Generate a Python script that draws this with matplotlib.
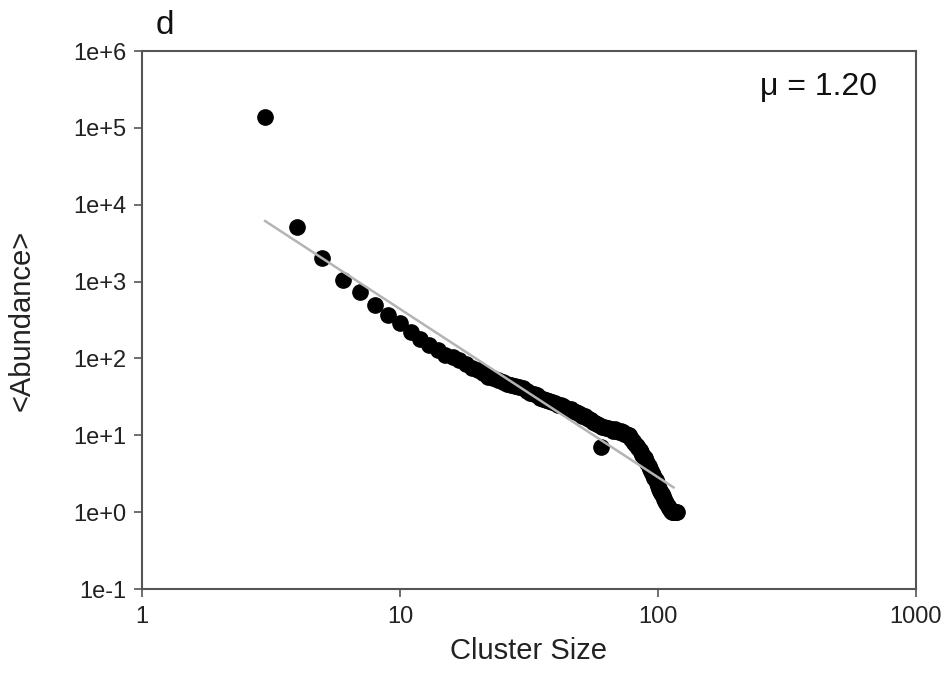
import numpy as np
import matplotlib
matplotlib.use("Agg")
import matplotlib.pyplot as plt
from matplotlib.ticker import FixedLocator, FixedFormatter, NullLocator

plt.rcParams["font.family"] = ["Liberation Sans", "DejaVu Sans"]

# -------------------------------
# Mean abundance per cluster size
# -------------------------------
cluster_size = np.arange(3, 120)
abundance = [
    1.4e5, 5100, 2000, 1050, 740, 500, 370, 290, 220, 180,      # 3-12
    150, 130, 112, 104, 95, 85, 76, 70, 64, 58,                 # 13-22
    55, 52, 49, 47, 45, 44, 42, 41, 38, 36,                     # 23-32
    34, 33, 31, 30, 29, 28, 27, 26, 25, 24.5,                   # 33-42
    24, 23, 22, 22, 21, 20, 19.5, 19, 18, 18,                   # 43-52
    17, 16.5, 16, 15, 14.5, 14, 13.5, 7, 13, 13,                # 53-62
    12.5, 12.5, 12, 12, 11.5, 12, 11.5, 11.5, 11, 11.5,         # 63-72
    11, 10.5, 10.5, 10, 10, 9.5, 9, 8.5, 8, 7.5,                # 73-82
    7.2, 6.8, 6.4, 6, 5.6, 5.3, 5, 4.7, 4.3, 4,                 # 83-92
    3.7, 3.4, 3.2, 3, 2.8, 2.6, 2.4, 2.2, 2, 1.9,               # 93-102
    1.8, 1.7, 1.6, 1.5, 1.4, 1.3, 1.2, 1.15, 1.1, 1.05,         # 103-112
    1.0, 1.0, 1.0, 1.0, 1.0, 1.0, 1.0,                          # 113-119
]

# power-law fit line (end points)
fit_x = [3, 115]
fit_y = [6150, 2.1]
mu = 1.20

x_ticks = [1, 10, 100, 1000]
x_labels = ["1", "10", "100", "1000"]
y_ticks = [1e-1, 1e0, 1e1, 1e2, 1e3, 1e4, 1e5, 1e6]
y_labels = ["1e-1", "1e+0", "1e+1", "1e+2", "1e+3", "1e+4", "1e+5", "1e+6"]

# -------------------------------
# Plot
# -------------------------------
fig = plt.figure(figsize=(9.47, 6.95), dpi=100)
ax = fig.add_axes([0.150, 0.1525, 0.817, 0.774])

ax.plot(cluster_size, abundance, "o", color="black", markersize=11, zorder=2)
ax.plot(fit_x, fit_y, "-", color="#b4b4b4", linewidth=1.8, zorder=3)

ax.set_xscale("log")
ax.set_yscale("log")
ax.set_xlim(1, 1000)
ax.set_ylim(1e-1, 1e6)

ax.xaxis.set_major_locator(FixedLocator(x_ticks))
ax.xaxis.set_major_formatter(FixedFormatter(x_labels))
ax.yaxis.set_major_locator(FixedLocator(y_ticks))
ax.yaxis.set_major_formatter(FixedFormatter(y_labels))
ax.xaxis.set_minor_locator(NullLocator())
ax.yaxis.set_minor_locator(NullLocator())

ax.tick_params(axis="both", direction="out", length=6, width=1.2,
               color="#555555", labelsize=17, labelcolor="#222222")
ax.tick_params(axis="x", pad=6)
ax.tick_params(axis="y", pad=5)

for sp in ax.spines.values():
    sp.set_color("#555555")
    sp.set_linewidth(1.5)

ax.set_xlabel("Cluster Size", fontsize=21, color="#222222", labelpad=7)
ax.set_ylabel("<Abundance>", fontsize=21, color="#222222", labelpad=27)

ax.text(0.95, 0.933, f"\u03bc = {mu:.2f}",
        transform=ax.transAxes, ha="right", va="center", fontsize=23,
        color="#111111")
fig.text(0.164, 0.963, "d", ha="left", va="center", fontsize=24,
         color="#111111")

plt.savefig("out.png", dpi=100)
